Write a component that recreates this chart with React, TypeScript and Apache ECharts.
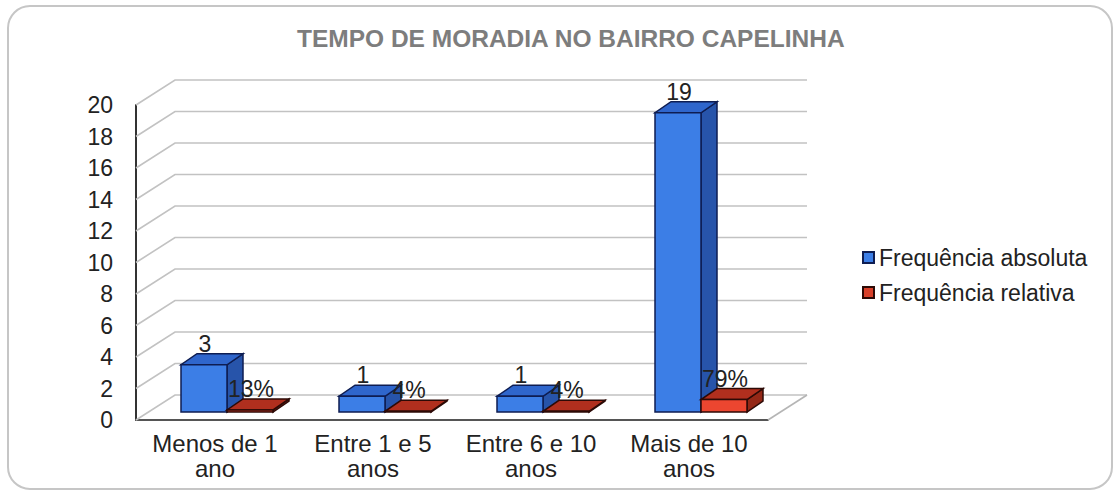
import React, { useEffect, useRef } from "react";
import * as echarts from "echarts";

const categories = ["Menos de 1\nano", "Entre 1 e 5\nanos", "Entre 6 e 10\nanos", "Mais de 10\nanos"];
const absoluta = [3, 1, 1, 19];
const relativa = [0.13, 0.04, 0.04, 0.79];
const yTicks = [0, 2, 4, 6, 8, 10, 12, 14, 16, 18, 20];
const seriesNames = ["Frequência absoluta", "Frequência relativa"];
const chartTitle = "TEMPO DE MORADIA NO BAIRRO CAPELINHA";

const FONT = "'Liberation Sans', Arial, sans-serif";
const SHIFT_X = 12;
const SHIFT_Y = -8;
const DEPTH_X = 16;
const DEPTH_Y = -11;
const WALL_X = 39;
const WALL_Y = -25;
const BAR_FRAC = 46 / 158;

type Palette = { front: string; top: string; side: string; stroke: string };

const bluePal: Palette = { front: "#3c7ee6", top: "#2f66cc", side: "#2754aa", stroke: "#0e1d52" };
const redPal: Palette = { front: "#ec4630", top: "#b02f1e", side: "#942817", stroke: "#2c0a06" };

function makeBarRenderer(side: "left" | "right", pal: Palette, fmt: (v: number) => string) {
  return (params: any, api: any) => {
    const idx = api.value(0);
    const v = api.value(1);
    const base = api.coord([idx, 0]);
    const top = api.coord([idx, v]);
    const bw = api.size([1, 0])[0];
    const w = bw * BAR_FRAC;
    const cx = base[0] + SHIFT_X;
    const x0 = side === "left" ? cx - w : cx;
    const x1 = x0 + w;
    const yb = base[1] + SHIFT_Y;
    const yt = top[1] + SHIFT_Y;
    const lw = 1.5;
    return {
      type: "group",
      children: [
        {
          type: "polygon",
          shape: { points: [[x1, yt], [x1 + DEPTH_X, yt + DEPTH_Y], [x1 + DEPTH_X, yb + DEPTH_Y], [x1, yb]] },
          style: { fill: pal.side, stroke: pal.stroke, lineWidth: lw },
        },
        {
          type: "polygon",
          shape: { points: [[x0, yt], [x1, yt], [x1 + DEPTH_X, yt + DEPTH_Y], [x0 + DEPTH_X, yt + DEPTH_Y]] },
          style: { fill: pal.top, stroke: pal.stroke, lineWidth: lw },
        },
        {
          type: "rect",
          shape: { x: x0, y: yt, width: w, height: Math.max(yb - yt, 0.5) },
          style: { fill: pal.front, stroke: pal.stroke, lineWidth: lw },
        },
        {
          type: "text",
          x: (x0 + x1) / 2 + 1,
          y: yt - 21,
          style: {
            text: fmt(v),
            fontSize: 23,
            fontFamily: FONT,
            fill: "#222",
            align: "center",
            verticalAlign: "middle",
          },
        },
      ],
    };
  };
}

function wallRenderer(params: any, api: any) {
  const v = api.value(1);
  const p = api.coord([0, v]);
  const bw = api.size([1, 0])[0];
  const xl = p[0] - bw / 2;
  const xr = api.coord([categories.length - 1, v])[0] + bw / 2;
  const y = p[1];
  const children: any[] = [
    {
      type: "polyline",
      shape: { points: [[xl, y], [xl + WALL_X, y + WALL_Y], [xr + WALL_X, y + WALL_Y]] },
      style: { stroke: "#c2c2c2", lineWidth: 1.6, fill: null },
    },
  ];
  if (v === 0) {
    children.push({
      type: "line",
      shape: { x1: xr, y1: y, x2: xr + WALL_X, y2: y + WALL_Y },
      style: { stroke: "#b5b5b5", lineWidth: 1.6 },
    });
  }
  return { type: "group", children };
}

export default function App() {
  const ref = useRef<HTMLDivElement>(null);
  useEffect(() => {
    if (!ref.current) return;
    const chart = echarts.init(ref.current, null, { renderer: "svg" });
    chart.setOption({
      animation: false,
      backgroundColor: "#ffffff",
      title: {
        text: chartTitle,
        left: 292,
        top: 21,
        textStyle: { fontSize: 24.5, fontWeight: "bold", color: "#7d7d7d", fontFamily: FONT },
      },
      graphic: [
        {
          type: "rect",
          z: -10,
          shape: { x: 8, y: 6, width: 1104, height: 483, r: 22 },
          style: { fill: "#ffffff", stroke: "#c6c6c6", lineWidth: 2 },
        },
      ],
      legend: {
        orient: "vertical",
        left: 857,
        top: 241,
        itemWidth: 11,
        itemHeight: 11,
        itemGap: 12,
        data: seriesNames,
        icon: "rect",
        textStyle: { fontSize: 23, color: "#222", fontFamily: FONT },
      },
      grid: { left: 136, right: 352, top: 105, bottom: 73 },
      xAxis: {
        type: "category",
        data: categories,
        axisLine: { show: true, lineStyle: { color: "#555", width: 2 } },
        axisTick: { show: false },
        axisLabel: { fontSize: 24, lineHeight: 25, margin: 11, color: "#222", interval: 0, fontFamily: FONT },
        splitLine: { show: false },
      },
      yAxis: {
        type: "value",
        min: 0,
        max: 20,
        interval: 2,
        axisLine: { show: true, lineStyle: { color: "#333", width: 2 } },
        axisTick: { show: false },
        axisLabel: { fontSize: 23, color: "#222", margin: 23, fontFamily: FONT },
        splitLine: { show: false },
      },
      series: [
        {
          type: "custom",
          name: "wall",
          silent: true,
          z: 1,
          renderItem: wallRenderer,
          data: yTicks.map((v) => [0, v]),
          encode: { x: 0, y: 1 },
        },
        {
          type: "custom",
          name: seriesNames[0],
          z: 2,
          itemStyle: { color: bluePal.front, borderColor: bluePal.stroke, borderWidth: 1 },
          renderItem: makeBarRenderer("left", bluePal, (v) => String(v)),
          data: absoluta.map((v, i) => [i, v]),
          encode: { x: 0, y: 1 },
        },
        {
          type: "custom",
          name: seriesNames[1],
          z: 3,
          itemStyle: { color: "#d8402a", borderColor: redPal.stroke, borderWidth: 1 },
          renderItem: makeBarRenderer("right", redPal, (v) => `${Math.round(v * 100)}%`),
          data: relativa.map((v, i) => [i, v]),
          encode: { x: 0, y: 1 },
        },
      ],
    });
    return () => chart.dispose();
  }, []);
  return (
    <div
      ref={ref}
      style={{ position: "absolute", left: 0, top: 0, width: 1120, height: 493, background: "#fff" }}
    />
  );
}
